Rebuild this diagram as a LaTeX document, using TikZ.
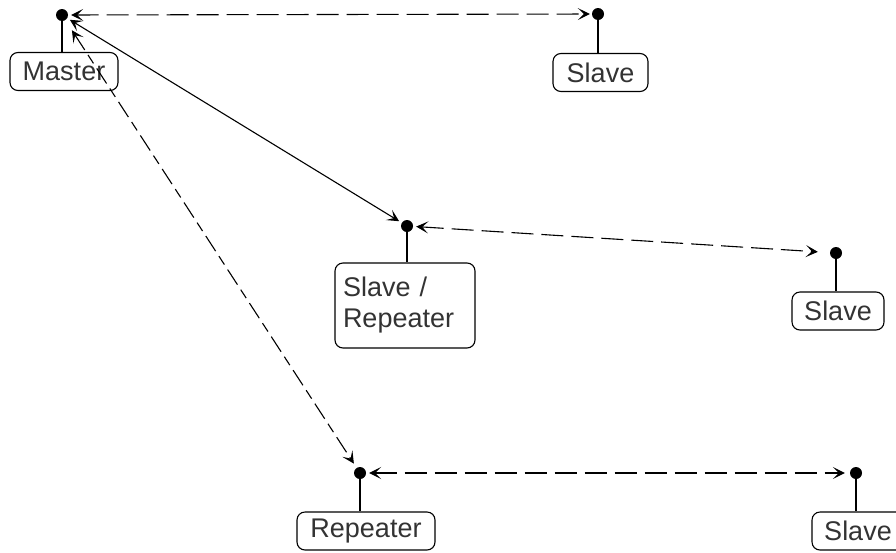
\documentclass[tikz,border=0pt]{standalone}
\usepackage{fontspec}
\setmainfont{Liberation Sans}
\usetikzlibrary{arrows.meta}
\begin{document}
\begin{tikzpicture}[x=1pt,y=-1pt,
  dev/.style={draw,rounded corners=8pt,line width=1.1pt,inner sep=0pt,minimum height=38pt,font=\fontsize{27}{31}\selectfont,text=black!80},
  dot/.style={circle,fill=black,inner sep=0pt,minimum size=12pt},
  stem/.style={line width=1.3pt},
  tip/.style={Stealth[length=12pt,width=12pt,inset=6pt]},
  link/.style={line width=1.1pt,{Stealth[length=12pt,width=12pt,inset=6pt]}-{Stealth[length=12pt,width=12pt,inset=6pt]}},
  dlink/.style={link,dash pattern=on 22pt off 8pt}]
\useasboundingbox (0,0) rectangle (896,552);
\fill[white] (0,0) rectangle (896,552);
% devices
\node[dev,minimum width=108pt] (master) at (64,71.5) {Master};
\node[dev,minimum width=95pt] (slave1) at (600.5,72.5) {Slave};
\node[dev,minimum width=140pt,minimum height=85pt,align=left,text width=124pt] (slrep) at (405,305.5) {Slave /\\Repeater};
\node[dev,minimum width=92pt] (slave2) at (838,311) {Slave};
\node[dev,minimum width=138pt] (rep) at (366,531) {Repeater};
\node[dev,minimum width=92pt] (slave3) at (858,531) {Slave};
% dots
\node[dot] (dm) at (62,15) {};
\node[dot] (ds1) at (598,14) {};
\node[dot] (dsr) at (407,226) {};
\node[dot] (ds2) at (836,253) {};
\node[dot] (drep) at (360,473) {};
\node[dot] (ds3) at (856,473) {};
% stems
\draw[stem] (dm) -- (dm |- master.north);
\draw[stem] (ds1) -- (ds1 |- slave1.north);
\draw[stem] (dsr) -- (dsr |- slrep.north);
\draw[stem] (ds2) -- (ds2 |- slave2.north);
\draw[stem] (drep) -- (drep |- rep.north);
\draw[stem] (ds3) -- (ds3 |- slave3.north);
% links
\draw[dlink,shorten <=3pt,shorten >=2pt] (dm) -- (ds1);
\draw[link,shorten <=3pt,shorten >=3pt] (dm) -- (dsr);
\draw[dlink,dash pattern=on 18pt off 6pt on 10pt off 6pt,shorten <=12pt,shorten >=5pt] (dm) -- (drep);
\draw[dlink,shorten <=3pt,shorten >=12pt] (dsr) -- (ds2);
\draw[dlink,shorten <=3pt,shorten >=5pt] (drep) -- (ds3);
\end{tikzpicture}
\end{document}
